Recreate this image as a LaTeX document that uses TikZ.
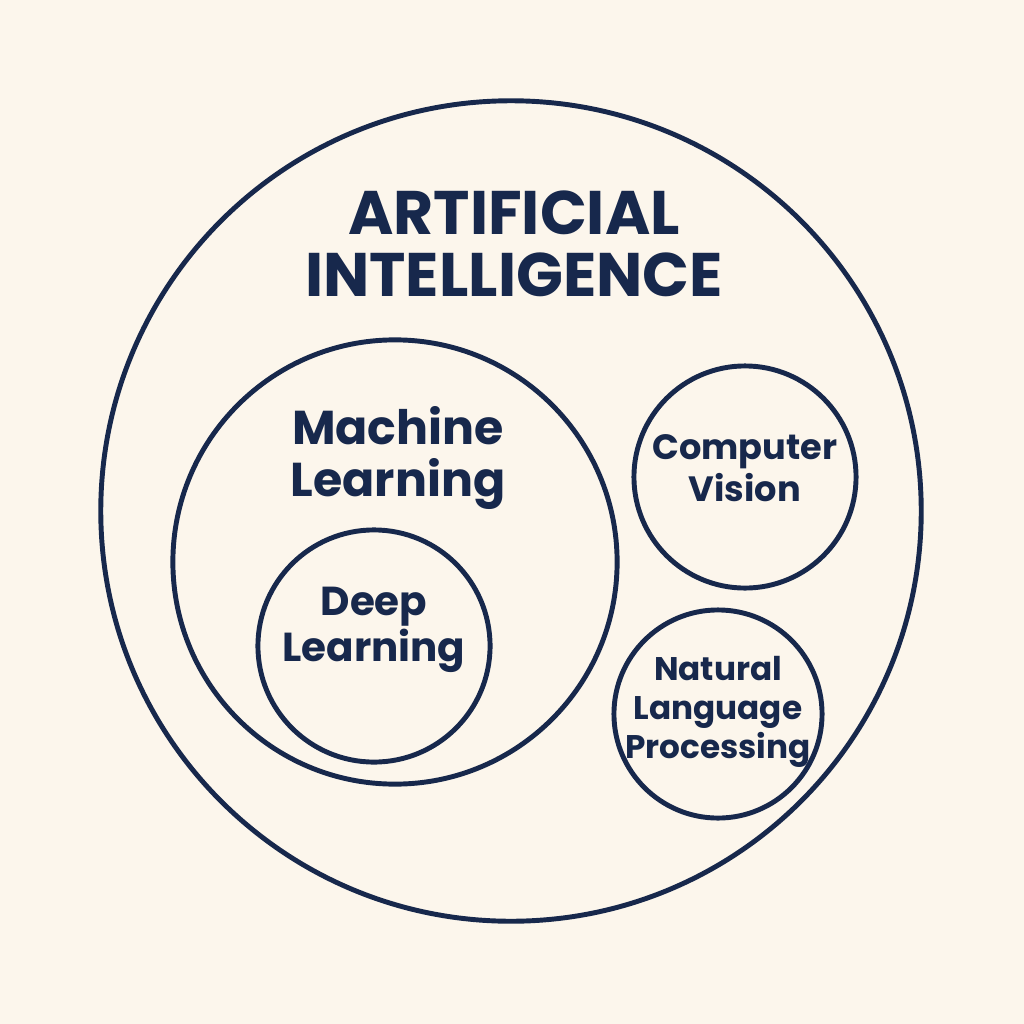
\documentclass[tikz,border=0pt]{standalone}
\usepackage{fontspec}
\setmainfont{Poppins}
\usetikzlibrary{positioning}
\definecolor{navy}{HTML}{17284C}
\definecolor{cream}{HTML}{FCF6EC}

\begin{document}
\begin{tikzpicture}[x=0.01cm,y=-0.01cm,line width=1.4pt,
  field/.style={circle,draw=navy,inner sep=0pt},
  label text/.style={text=navy,align=center,font=\bfseries}]
  \fill[cream] (0,0) rectangle (1024,1024);
  \useasboundingbox (0,0) rectangle (1024,1024);
  % circles
  \node[field,minimum size=8.2cm] (ai) at (511,511) {};
  \node[field,minimum size=4.44cm] (ml) at (395,562) {};
  \node[field,minimum size=2.32cm] (dl) at (374,646) {};
  \node[field,minimum size=2.22cm] (cv) at (745,477) {};
  \node[field,minimum size=2.08cm] (nlp) at (718,714) {};
  % labels
  \node[label text,font=\fontsize{17.5}{17.6}\selectfont\bfseries] (aitext) at (514,244) {ARTIFICIAL\\INTELLIGENCE};
  \node[label text,font=\fontsize{13.5}{15}\selectfont\bfseries] (mltext) at (398,458) {Machine\\Learning};
  \node[label text,font=\fontsize{11.5}{13}\selectfont\bfseries] (dltext) at (374,630) {Deep\\Learning};
  \node[label text,font=\fontsize{10}{12}\selectfont\bfseries] (cvtext) at (745,468) {Computer\\Vision};
  \node[label text,font=\fontsize{9.3}{11}\selectfont\bfseries] (nlptext) at (718,712) {Natural\\Language\\Processing};
\end{tikzpicture}
\end{document}
